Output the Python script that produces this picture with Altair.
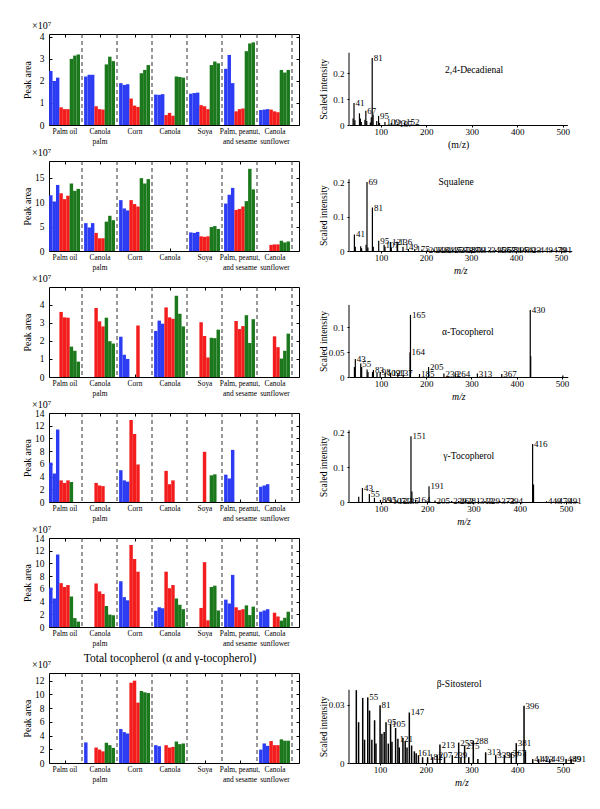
import json
import altair as alt
import pandas as pd

FONT = "Liberation Serif"
BLUE, RED, GREEN = "#2b3cf3", "#f31d1d", "#1c781c"

group_lines = [["Palm oil"], ["Canola", "palm"], ["Corn"], ["Canola"], ["Soya"],
               ["Palm, peanut,", "and sesame"], ["Canola", "sunflower"]]

# ---- left bar panels: 7 groups x 3 replicates (x10^7), 0 = not detected ----
dec_blue = [[2.45, 2.0, 2.15], [2.2, 2.28, 2.28], [1.9, 1.82, 1.85], [1.38, 1.37, 1.4], [1.42, 1.45, 1.47], [2.55, 3.18, 1.9], [0.68, 0.7, 0.72]]
dec_red = [[0.8, 0.72, 0.72], [0.85, 0.72, 0.7], [1.2, 0.88, 0.82], [0.45, 0.55, 0.42], [0.9, 0.85, 0.72], [0.62, 0.72, 0.75], [0.7, 0.62, 0.58]]
dec_green = [[3.0, 3.15, 3.2], [2.75, 3.1, 2.9], [2.35, 2.5, 2.72], [2.2, 2.18, 2.15], [2.72, 2.88, 2.8], [3.35, 3.7, 3.75], [2.5, 2.38, 2.5]]

sq_blue = [[11.4, 10.1, 13.5], [5.7, 4.8, 5.7], [10.4, 8.7, 8.3], [0, 0, 0], [3.8, 3.7, 3.9], [9.7, 11.5, 12.9], [0, 0, 0]]
sq_red = [[11.8, 10.6, 11.3], [3.7, 2.6, 2.6], [10.4, 9.6, 9.1], [0, 0, 0], [3.0, 2.9, 3.0], [8.4, 8.6, 9.1], [1.25, 1.35, 1.35]]
sq_green = [[13.8, 12.3, 12.7], [6.0, 7.2, 6.3], [14.9, 13.8, 14.7], [0, 0, 0], [4.9, 5.1, 4.5], [10.2, 16.8, 12.6], [2.1, 1.75, 1.95]]

at_blue = [[0, 0, 0], [0, 0, 0], [2.23, 1.23, 1.0], [2.55, 3.12, 2.95], [0, 0, 0], [0, 0, 0], [0, 0, 0]]
at_red = [[3.6, 3.3, 3.28], [3.82, 3.08, 2.8], [0, 0, 2.85], [3.85, 3.3, 3.22], [3.03, 2.27, 1.08], [3.1, 2.65, 2.82], [0, 2.25, 1.65]]
at_green = [[1.68, 1.45, 0.85], [3.28, 1.98, 1.85], [0, 0, 0], [4.5, 3.5, 2.8], [2.17, 2.15, 2.62], [3.42, 1.88, 3.2], [1.02, 1.45, 2.4]]

gt_blue = [[6.2, 4.5, 11.4], [0, 0, 0], [5.0, 3.4, 3.2], [0, 0, 0], [0, 0, 0], [4.3, 3.7, 8.2], [2.4, 2.6, 2.8]]
gt_red = [[3.4, 3.0, 3.4], [3.0, 2.6, 2.5], [12.9, 10.7, 5.9], [4.9, 2.8, 3.4], [0, 7.9, 0], [0, 0, 0], [0, 0, 0]]
gt_green = [[3.15, 0, 0], [0, 0, 0], [0, 0, 0], [0, 0, 0], [4.2, 4.35, 0], [0, 0, 0], [0, 0, 0]]

tt_blue = [[6.2, 4.5, 11.4], [0, 0, 0], [7.2, 4.7, 4.2], [2.55, 3.1, 2.95], [0, 0, 0], [4.3, 3.7, 8.2], [2.4, 2.6, 2.8]]
tt_red = [[6.9, 6.3, 6.6], [6.85, 5.6, 5.2], [12.9, 10.7, 8.7], [8.7, 6.1, 6.6], [3.0, 10.2, 1.05], [3.1, 2.65, 2.8], [0, 2.25, 1.65]]
tt_green = [[4.8, 1.4, 0.85], [3.3, 1.95, 1.85], [0, 0, 0], [4.5, 3.5, 2.8], [6.3, 6.5, 2.6], [3.4, 1.88, 3.2], [1.0, 1.45, 2.4]]

bs_blue = [[0, 0, 0], [3.0, 0, 0], [4.95, 4.5, 4.3], [2.6, 2.45, 0], [0, 0, 0], [0, 0, 0], [1.95, 2.85, 2.5]]
bs_red = [[0, 0, 0], [2.25, 1.95, 1.7], [11.7, 12.0, 8.8], [2.6, 2.25, 2.35], [0, 0, 0], [0, 0, 0], [3.2, 2.6, 2.6]]
bs_green = [[0, 0, 0], [2.95, 2.6, 2.2], [10.5, 10.3, 10.2], [3.15, 2.75, 2.85], [0, 0, 0], [0, 0, 0], [3.45, 3.25, 3.25]]

# ---- mass spectra (m/z, scaled intensity, peak label) ----
dec_mz = [39, 41, 43, 53, 55, 57, 65, 67, 69, 77, 79, 81, 83, 91, 95, 97, 109, 123, 137, 152]
dec_int = [0.025, 0.085, 0.018, 0.045, 0.025, 0.012, 0.02, 0.055, 0.015, 0.01, 0.03, 0.258, 0.04, 0.015, 0.035, 0.008, 0.012, 0.008, 0.005, 0.01]
dec_lab = ["", "41", "", "", "", "", "", "67", "", "", "", "81", "", "", "95", "", "109", "123", "137", "152"]

sq_mz = [41, 43, 55, 57, 67, 69, 71, 81, 83, 95, 107, 109, 121, 123, 136, 137, 149, 161, 175, 191,
         203, 218, 231, 245, 259, 273, 287, 299, 313, 327, 341, 355, 367, 381, 395, 410, 423, 437, 449, 479, 491]
sq_int = [0.048, 0.012, 0.014, 0.008, 0.018, 0.2, 0.01, 0.126, 0.012, 0.03, 0.018, 0.012, 0.026, 0.01, 0.027, 0.02, 0.012, 0.006, 0.005, 0.004,
          0.004, 0.004, 0.004, 0.003, 0.003, 0.003, 0.003, 0.003, 0.003, 0.002, 0.003, 0.003, 0.003, 0.003, 0.003, 0.003, 0.003, 0.002, 0.003, 0.003, 0.003]
sq_lab = ["41", "", "", "", "", "69", "", "81", "", "95", "107", "", "121", "", "136", "", "149", "", "175", "",
          "203", "218", "231", "245", "259", "273", "287", "299", "313", "", "341", "355", "367", "381", "395", "410", "423", "", "449", "479", "491"]

at_mz = [41, 43, 55, 57, 69, 71, 81, 83, 91, 98, 109, 121, 137, 149, 164, 165, 185, 205, 239, 264, 313, 367, 430, 431, 502]
at_int = [0.02, 0.036, 0.027, 0.02, 0.015, 0.01, 0.01, 0.014, 0.008, 0.01, 0.008, 0.008, 0.008, 0.004, 0.05, 0.125, 0.006, 0.02, 0.007, 0.007, 0.007, 0.006, 0.135, 0.042, 0.003]
at_lab = ["", "43", "55", "", "", "", "", "83", "", "98", "109", "121", "137", "", "164", "165", "185", "205", "239", "264", "313", "367", "430", "", ""]

gt_mz = [52, 60, 75, 86, 99, 111, 122, 135, 150, 165, 167, 175, 204, 217, 253, 268, 283, 311, 325, 357, 375, 428, 430, 458, 480, 502]
gt_int = [0.015, 0.04, 0.023, 0.012, 0.006, 0.005, 0.004, 0.004, 0.004, 0.188, 0.03, 0.006, 0.045, 0.004, 0.003, 0.003, 0.003, 0.003, 0.003, 0.003, 0.003, 0.166, 0.05, 0.002, 0.002, 0.002]
gt_lab = ["", "43", "55", "", "89", "95", "107", "123", "135", "151", "", "164", "191", "205", "239", "263", "281", "313", "329", "373", "394", "416", "", "449", "479", "491"]

bs_mz = [48, 53, 62, 66, 73, 77, 82, 88, 91, 100, 104, 109, 113, 118, 123, 126, 134, 139, 142, 150,
         155, 159, 164, 169, 175, 179, 184, 193, 204, 215, 225, 231, 241, 258, 272, 277, 285, 294, 304, 314,
         331, 353, 372, 387, 398, 415, 418, 434, 447, 471, 507, 518]
bs_int = [0.0375, 0.021, 0.0335, 0.012, 0.0338, 0.027, 0.012, 0.022, 0.01, 0.0297, 0.015, 0.016, 0.021, 0.01, 0.02, 0.011, 0.018, 0.0125, 0.008, 0.013,
          0.011, 0.008, 0.026, 0.009, 0.006, 0.005, 0.004, 0.003, 0.003, 0.003, 0.004, 0.0095, 0.003, 0.004, 0.0105, 0.003, 0.009, 0.003, 0.0115, 0.002,
          0.0055, 0.004, 0.004, 0.005, 0.0102, 0.0295, 0.006, 0.002, 0.002, 0.002, 0.002, 0.002]
bs_lab = ["", "", "", "", "55", "", "", "", "", "81", "", "", "95", "", "105", "", "", "121", "", "",
          "", "", "147", "", "", "161", "", "", "182", "", "207", "213", "", "239", "255", "", "275", "", "288", "",
          "313", "339", "357", "367", "381", "396", "", "414", "423", "449", "489", "491"]

XL = alt.Scale(domain=[0.057, 7.2], nice=False, zero=False)
LABEL_EXPR = json.dumps(group_lines) + "[floor(datum.value)]"
CENTERS = [g + 0.5 for g in range(7)]
DASHES = [1, 2, 3, 4, 5, 6, 7]
BW = 0.098


def bar_table(blue, red, green):
    rows = []
    for g in range(7):
        for ci, (name, vals) in enumerate([("blue", blue), ("red", red), ("green", green)]):
            for r in range(3):
                v = vals[g][r]
                if v > 0:
                    x0 = g + 0.06 + BW * (3 * ci + r)
                    rows.append({"x0": x0, "x1": x0 + BW, "v": v, "s": name})
    return pd.DataFrame(rows)


def left_panel(blue, red, green, ymax, yticks, height, title=None):
    df = bar_table(blue, red, green)
    ys = alt.Scale(domain=[0, ymax], nice=False, zero=True)
    color = alt.Color("s:N", scale=alt.Scale(domain=["blue", "red", "green"], range=[BLUE, RED, GREEN]), legend=None)
    bars = alt.Chart(df).mark_bar(strokeWidth=0).encode(
        x=alt.X("x0:Q", scale=XL, axis=alt.Axis(values=CENTERS, labelExpr=LABEL_EXPR, title=None, grid=False,
                                               domain=False, tickSize=3, offset=-3, labelPadding=2.5, labelFontSize=7.4,
                                               labelLineHeight=9.5, labelFlush=False, labelOverlap=False)),
        x2="x1:Q",
        y=alt.Y("v:Q", scale=ys, axis=alt.Axis(values=yticks, format="d", title="Peak area", titleX=-20,
                                              titleY=height / 2, titleFontSize=9.8, titleFontWeight="normal",
                                              grid=False, domain=False, tickSize=3, offset=-3, labelPadding=5,
                                              labelFontSize=9.5)),
        y2=alt.datum(0),
        color=color,
    )
    ghost = alt.Chart(df).mark_bar(opacity=0).encode(
        x=alt.X("x0:Q", scale=XL, axis=alt.Axis(orient="top", values=CENTERS, labels=False, title=None, grid=False,
                                               domain=False, tickSize=3, offset=-3)),
        x2="x1:Q",
        y=alt.Y("v:Q", scale=ys, axis=alt.Axis(orient="right", values=yticks, labels=False, title=None, grid=False,
                                              domain=False, tickSize=3, offset=-3)),
        y2=alt.datum(0),
    )
    dashes = alt.Chart(pd.DataFrame({"p": DASHES})).mark_rule(color="#333333", strokeDash=[4, 3], strokeWidth=1).encode(
        x=alt.X("p:Q", scale=XL, axis=None))
    expo = alt.Chart(pd.DataFrame({"t": ["×10⁷"]})).mark_text(align="left", baseline="middle", fontSize=10).encode(
        x=alt.value(-17), y=alt.value(-8), text="t:N")
    layers = [bars, ghost, dashes, expo]
    if title:
        layers.append(alt.Chart(pd.DataFrame({"t": [title]})).mark_text(align="center", baseline="middle", fontSize=11.5).encode(
            x=alt.value(121), y=alt.value(-14), text="t:N"))
    return alt.layer(*layers).resolve_axis(x="independent", y="independent").properties(
        width=250, height=height, view=alt.ViewBackground(stroke="black", strokeWidth=1))


def spectrum(mz, inten, labs, lo, hi, ppu, height, ppy, axis_top, yticks, name, name_x, name_y, xtitle, italic, sw=1.2):
    width = (hi - lo) * ppu
    ymax = height / ppy
    xs = alt.Scale(domain=[lo, hi], nice=False, zero=False)
    ys = alt.Scale(domain=[0, ymax], nice=False, zero=True)
    df = pd.DataFrame({"mz": mz, "i": inten, "lab": labs})
    peaks = alt.Chart(df).mark_rule(color="black", strokeWidth=sw).encode(
        x=alt.X("mz:Q", scale=xs, axis=alt.Axis(values=[100, 200, 300, 400, 500], format="d", title=xtitle,
                                               titleFontStyle="italic" if italic else "normal", titleFontSize=9.8,
                                               titleFontWeight="normal", grid=False, tickSize=2, labelPadding=0,
                                               titlePadding=3, labelFontSize=9, labelFlush=False)),
        y=alt.Y("i:Q", scale=ys, axis=alt.Axis(values=yticks, format="~g", title="Scaled intensity", titleX=-21,
                                              titleY=height - axis_top * ppy / 2, titleFontSize=9.6,
                                              titleFontWeight="normal", domain=False, grid=False, tickSize=2,
                                              labelPadding=3, labelFontSize=9)),
        y2=alt.datum(0),
    )
    labels = alt.Chart(df).transform_filter("datum.lab != ''").mark_text(
        align="left", baseline="middle", dx=1.5, fontSize=9).encode(
        x=alt.X("mz:Q", scale=xs), y=alt.Y("i:Q", scale=ys), text="lab:N")
    yline = alt.Chart(pd.DataFrame({"a": [0]})).mark_rule(color="black", strokeWidth=1).encode(
        x=alt.datum(lo), y=alt.datum(0), y2=alt.datum(axis_top))
    title = alt.Chart(pd.DataFrame({"t": [name]})).mark_text(align="center", baseline="middle", fontSize=9.6).encode(
        x=alt.datum(name_x), y=alt.datum(name_y), text="t:N")
    return alt.layer(peaks, labels, yline, title).properties(width=width, height=height)


blank = alt.Chart(pd.DataFrame({"a": [0]})).mark_rule(opacity=0).encode(
    x=alt.value(0), y=alt.value(0), y2=alt.value(89 + 27)).properties(width=200, height=89)

cells = [
    left_panel(dec_blue, dec_red, dec_green, 4.13, [0, 1, 2, 3, 4], 91),
    spectrum(dec_mz, dec_int, dec_lab, 30, 510, 0.455, 91, 260, 0.278, [0, 0.1, 0.2],
             "2,4-Decadienal", 305, 0.21, "(m/z)", False),
    left_panel(sq_blue, sq_red, sq_green, 18.4, [0, 5, 10, 15], 90),
    spectrum(sq_mz, sq_int, sq_lab, 29, 524, 0.45, 90, 345, 0.208, [0, 0.05, 0.1, 0.15, 0.2],
             "Squalene", 267, 0.2, "m/z", True),
    left_panel(at_blue, at_red, at_green, 4.98, [0, 1, 2, 3, 4], 90),
    spectrum(at_mz, at_int, at_lab, 29, 513, 0.452, 90, 497, 0.145, [0, 0.05, 0.1],
             "α-Tocopherol", 292, 0.09, "m/z", True),
    left_panel(gt_blue, gt_red, gt_green, 14, [0, 2, 4, 6, 8, 10, 12, 14], 89),
    spectrum(gt_mz, gt_int, gt_lab, 31, 526, 0.4625, 89, 350, 0.205, [0, 0.05, 0.1, 0.15, 0.2],
             "γ-Tocopherol", 290, 0.132, "m/z", True),
    left_panel(tt_blue, tt_red, tt_green, 14, [0, 2, 4, 6, 8, 10, 12, 14], 89),
    blank,
    left_panel(bs_blue, bs_red, bs_green, 13.12, [0, 2, 4, 6, 8, 10, 12], 90,
               title="Total tocopherol (α and γ-tocopherol)"),
    spectrum(bs_mz, bs_int, bs_lab, 32, 524, 0.457, 90, 1943, 0.0377, [0, 0.01, 0.02, 0.03],
             "β-Sitosterol", 273, 0.0407, "m/z", True, sw=1.5),
]

chart = alt.concat(*cells, columns=2, spacing={"row": -3, "column": 17}, align="each").properties(
    padding={"left": 13, "top": 12, "right": 5, "bottom": 5}
).configure(font=FONT).configure_view(stroke="transparent").configure_axis(
    labelColor="black", titleColor="black", tickColor="black", domainColor="black",
    labelFont=FONT, titleFont=FONT
).configure_text(font=FONT, color="black")

chart.save("out.html", embed_options={"renderer": "svg", "actions": False})
